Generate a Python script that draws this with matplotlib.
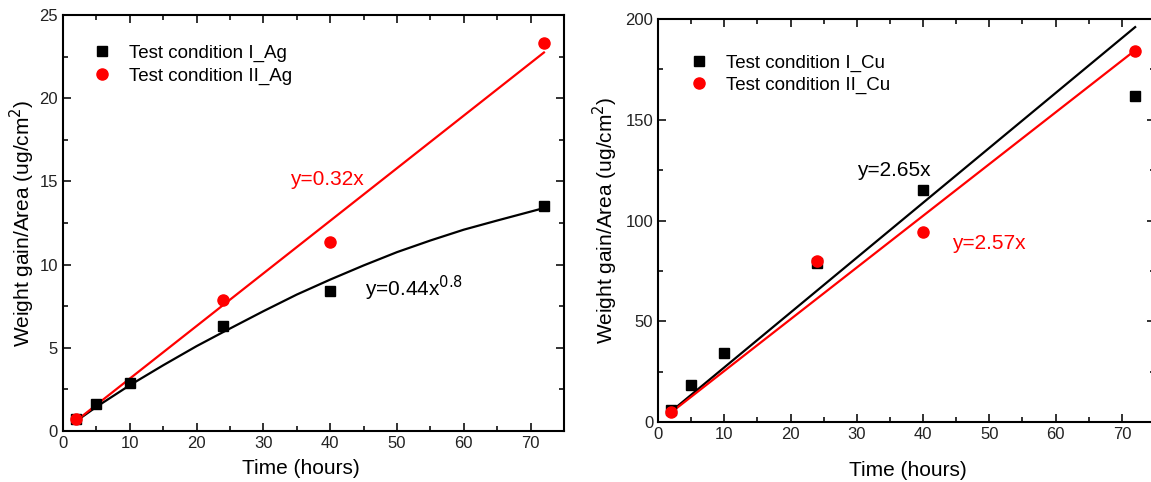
import numpy as np
import matplotlib
matplotlib.use("Agg")
import matplotlib.pyplot as plt
from matplotlib.ticker import MultipleLocator

plt.rcParams['font.family'] = ['Liberation Sans', 'DejaVu Sans']

# --- Ag panel ---
ag_time_I = [2, 5, 10, 24, 40, 72]
ag_gain_I = [0.7, 1.6, 2.9, 6.3, 8.4, 13.5]
ag_time_II = [2, 24, 40, 72]
ag_gain_II = [0.75, 7.9, 11.35, 23.3]
# fitted curves
ag_fit_I_x = [2, 5, 10, 15, 20, 24, 30, 35, 40, 45, 50, 55, 60, 65, 72]
ag_fit_I_y = [0.6, 1.45, 2.75, 3.95, 5.1, 5.95, 7.2, 8.2, 9.1, 9.95, 10.75, 11.45, 12.1, 12.65, 13.4]
ag_fit_II_x = [2, 72]
ag_fit_II_y = [0.62, 22.75]

# --- Cu panel ---
cu_time_I = [2, 5, 10, 24, 40, 72]
cu_gain_I = [6, 18.5, 34, 79, 115, 162]
cu_time_II = [2, 24, 40, 72]
cu_gain_II = [5, 80, 94.5, 184]
cu_fit_I_x = [2, 72]
cu_fit_I_y = [5.3, 196]
cu_fit_II_x = [2, 72]
cu_fit_II_y = [4.8, 184.5]

fig = plt.figure(figsize=(11.51, 4.82), dpi=100)
ax1 = fig.add_axes([0.0547, 0.1058, 0.4353, 0.863])
ax2 = fig.add_axes([0.5717, 0.1245, 0.4318, 0.836])

ax1.plot(ag_fit_I_x, ag_fit_I_y, color="black", lw=1.6, zorder=2)
ax1.plot(ag_fit_II_x, ag_fit_II_y, color="red", lw=1.6, zorder=2)
ax1.plot(ag_time_I, ag_gain_I, "s", color="black", ms=7, ls="none",
         label="Test condition I_Ag", zorder=3)
ax1.plot(ag_time_II, ag_gain_II, "o", color="red", ms=8, ls="none",
         label="Test condition II_Ag", zorder=3)
ax1.text(34, 15.1, "y=0.32x", color="red", fontsize=15, va="center")
ax1.text(45.2, 8.6, "y=0.44x$^{0.8}$", color="black", fontsize=15, va="center")
ax1.set_xlim(0, 75)
ax1.set_ylim(0, 25)
ax1.xaxis.set_major_locator(MultipleLocator(10))
ax1.xaxis.set_minor_locator(MultipleLocator(5))
ax1.yaxis.set_major_locator(MultipleLocator(5))
ax1.yaxis.set_minor_locator(MultipleLocator(2.5))

ax2.plot(cu_fit_I_x, cu_fit_I_y, color="black", lw=1.6, zorder=2)
ax2.plot(cu_fit_II_x, cu_fit_II_y, color="red", lw=1.6, zorder=2)
ax2.plot(cu_time_I, cu_gain_I, "s", color="black", ms=7, ls="none",
         label="Test condition I_Cu", zorder=3)
ax2.plot(cu_time_II, cu_gain_II, "o", color="red", ms=8, ls="none",
         label="Test condition II_Cu", zorder=3)
ax2.text(30.0, 125, "y=2.65x", color="black", fontsize=15, va="center")
ax2.text(44.3, 88.5, "y=2.57x", color="red", fontsize=15, va="center")
ax2.set_xlim(0, 75)
ax2.set_ylim(0, 200)
ax2.xaxis.set_major_locator(MultipleLocator(10))
ax2.xaxis.set_minor_locator(MultipleLocator(5))
ax2.yaxis.set_major_locator(MultipleLocator(50))
ax2.yaxis.set_minor_locator(MultipleLocator(25))

for ax in (ax1, ax2):
    for s in ax.spines.values():
        s.set_linewidth(1.5)
    ax.tick_params(which="both", direction="in", top=True, right=True,
                   width=1.3, labelsize=12, colors="#222222")
    ax.tick_params(which="major", length=6)
    ax.tick_params(which="minor", length=3.5)

ax1.set_xlabel("Time (hours)", fontsize=15, labelpad=6)
ax1.xaxis.label.set_x(0.474)
ax1.set_ylabel("Weight gain/Area (ug/cm$^2$)", fontsize=15, labelpad=2)
ax2.set_xlabel("Time (hours)", fontsize=15, labelpad=14)
ax2.xaxis.label.set_x(0.503)
ax2.set_ylabel("Weight gain/Area (ug/cm$^2$)", fontsize=15, labelpad=4)

ax1.legend(loc="upper left", bbox_to_anchor=(0.006, 0.988), frameon=False,
           fontsize=13.5, handletextpad=0.85, borderaxespad=0.9,
           labelspacing=0.3, handlelength=1.2)
ax2.legend(loc="upper left", bbox_to_anchor=(0.010, 0.972), frameon=False,
           fontsize=13.5, handletextpad=0.85, borderaxespad=0.9,
           labelspacing=0.25, handlelength=1.2)

fig.savefig("out.png", dpi=100)
